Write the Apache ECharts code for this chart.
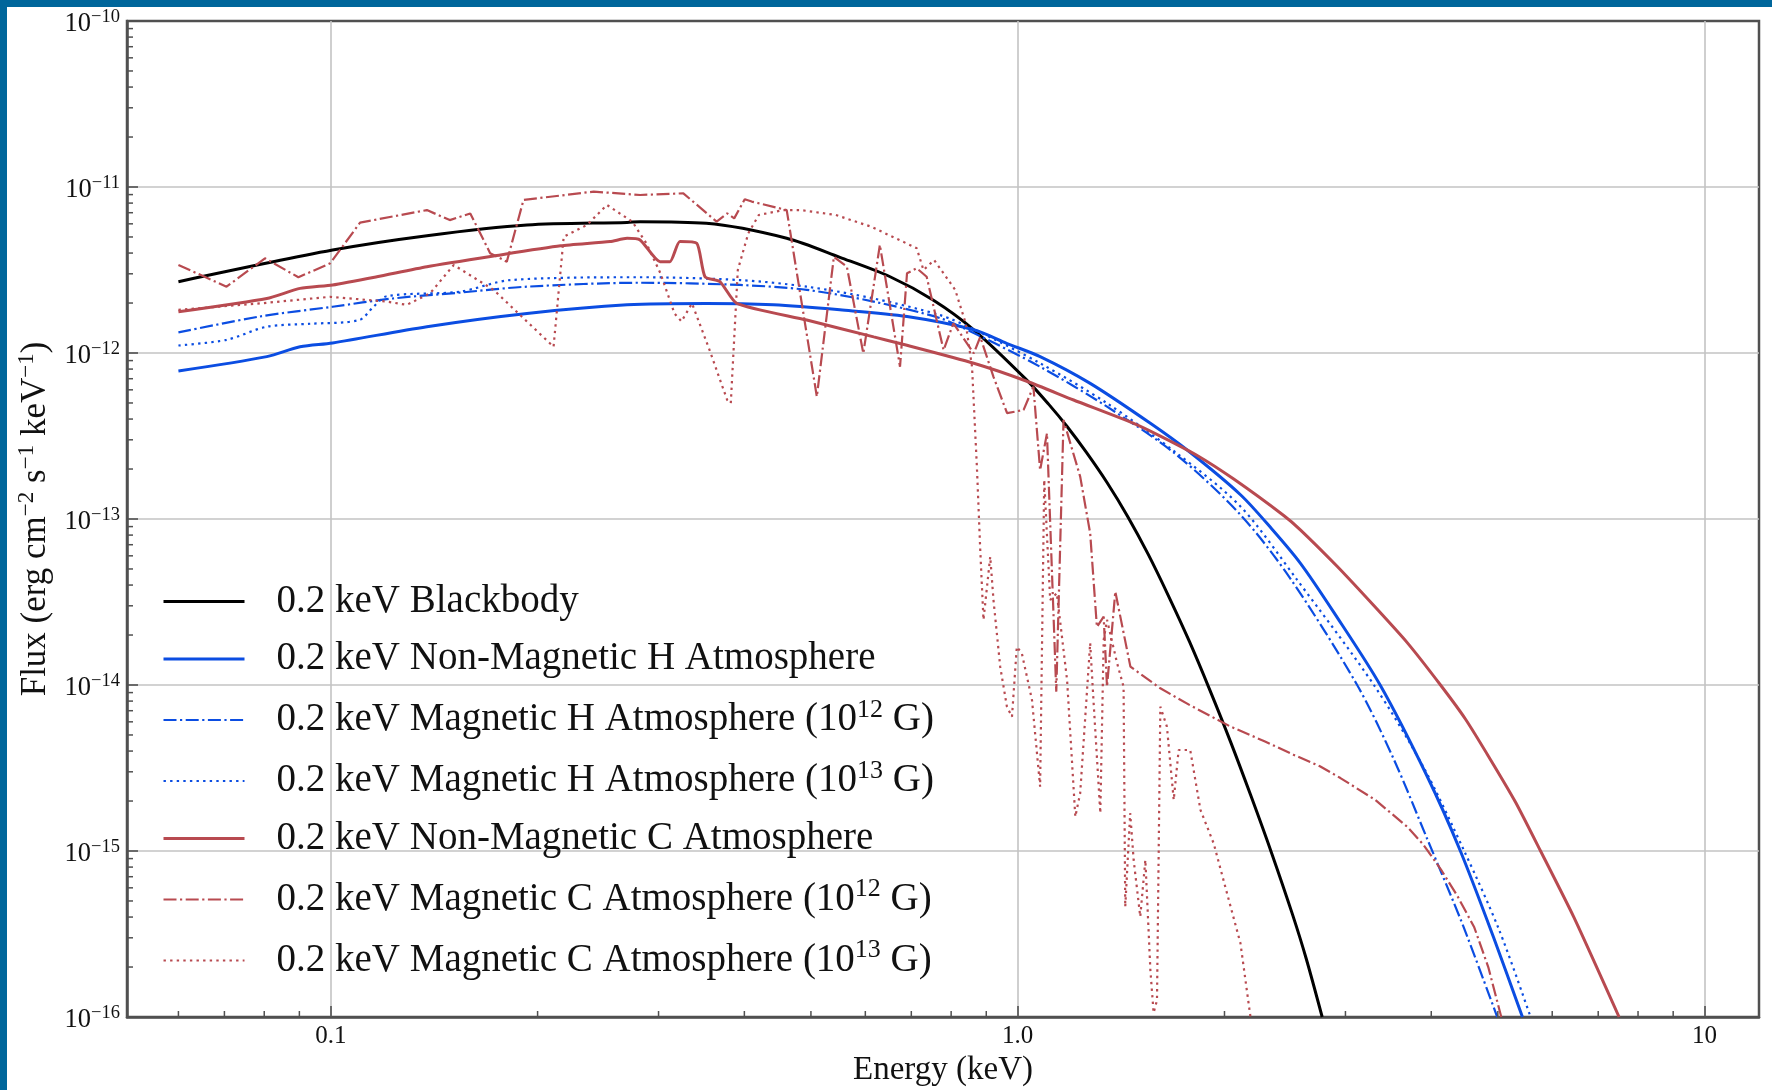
<!DOCTYPE html>
<html>
<head>
<meta charset="utf-8">
<title>0.2 keV thermal spectra: blackbody and neutron-star atmospheres</title>
<script src="https://cdn.jsdelivr.net/npm/echarts@6/dist/echarts.min.js"></script>
<style>
  html, body { margin: 0; padding: 0; background: #ffffff; }
  #chart { width: 1772px; height: 1090px; }
</style>
</head>
<body>
<div id="chart"></div>
<script>
// ---- Spectra: energy in keV, flux in erg cm^-2 s^-1 keV^-1 ----

// 0.2 keV blackbody
const bbEnergy = [0.060, 0.1006, 0.138, 0.193, 0.270, 0.282, 0.352, 0.461, 0.551, 0.652,
                  0.754, 0.863, 1.031, 1.109, 1.18, 1.259, 1.349, 1.445, 1.549, 1.660,
                  1.778, 1.905, 2.042, 2.188, 2.344, 2.512, 2.630, 2.775];
const bbFlux   = [2.69e-12, 4.17e-12, 5.09e-12, 5.90e-12, 6.12e-12, 6.18e-12, 6.04e-12, 4.91e-12, 3.77e-12, 2.88e-12,
                  2.08e-12, 1.38e-12, 6.87e-13, 4.92e-13, 3.61e-13, 2.52e-13, 1.66e-13, 1.04e-13, 6.12e-14, 3.40e-14,
                  1.83e-14, 9.29e-15, 4.53e-15, 2.12e-15, 9.64e-16, 4.15e-16, 2.25e-16, 1.0e-16];

// Non-magnetic hydrogen atmosphere
const hEnergy = [0.060, 0.0807, 0.0902, 0.1006, 0.138, 0.193, 0.270, 0.352, 0.441, 0.551,
                 0.690, 0.863, 0.965, 1.078, 1.275, 1.56, 1.778, 2.11, 2.344, 2.58,
                 2.884, 3.37, 3.945, 4.41, 4.93, 5.43];
const hFlux   = [7.80e-13, 9.51e-13, 1.09e-12, 1.15e-12, 1.44e-12, 1.73e-12, 1.95e-12, 1.99e-12, 1.95e-12, 1.82e-12,
                 1.66e-12, 1.38e-12, 1.14e-12, 9.51e-13, 6.56e-13, 3.77e-13, 2.54e-13, 1.40e-13, 8.71e-14, 5.41e-14,
                 2.75e-14, 1.00e-14, 2.82e-15, 1.00e-15, 3.01e-16, 1.0e-16];

// Magnetic hydrogen atmosphere, B = 1e12 G
const h12Energy = [0.060, 0.0789, 0.1006, 0.123, 0.154, 0.193, 0.282, 0.394, 0.493, 0.617,
                   0.771, 0.863, 1.078, 1.349, 1.70, 2.11, 2.49, 3.12, 3.53, 3.95,
                   4.45, 4.99];
const h12Flux   = [1.33e-12, 1.66e-12, 1.90e-12, 2.13e-12, 2.31e-12, 2.51e-12, 2.65e-12, 2.57e-12, 2.40e-12, 2.04e-12,
                   1.62e-12, 1.32e-12, 8.26e-13, 4.75e-13, 2.45e-13, 1.06e-13, 4.42e-14, 1.00e-14, 3.55e-15, 1.17e-15,
                   3.55e-16, 1.0e-16];

// Magnetic hydrogen atmosphere, B = 1e13 G
const h13Energy = [0.060, 0.0705, 0.0807, 0.0933, 0.110, 0.1154, 0.1207, 0.154, 0.1825, 0.282,
                   0.394, 0.493, 0.617, 0.771, 0.863, 1.078, 1.349, 1.70, 2.11, 2.55,
                   3.30, 3.90, 4.467, 5.02, 5.58];
const h13Flux   = [1.11e-12, 1.20e-12, 1.44e-12, 1.50e-12, 1.58e-12, 1.90e-12, 2.20e-12, 2.34e-12, 2.75e-12, 2.86e-12,
                   2.75e-12, 2.51e-12, 2.13e-12, 1.69e-12, 1.39e-12, 8.67e-13, 4.98e-13, 2.51e-13, 1.19e-13, 4.31e-14,
                   1.00e-14, 3.18e-15, 1.00e-15, 3.36e-16, 1.0e-16];

// Non-magnetic carbon atmosphere
const cEnergy = [0.060, 0.0807, 0.0902, 0.1006, 0.1167, 0.138, 0.1726, 0.216, 0.255, 0.270,
                 0.282, 0.3015, 0.3117, 0.3223, 0.341, 0.3506, 0.3685, 0.390, 0.493, 0.617,
                 0.674, 0.863, 1.031, 1.206, 1.475, 1.613, 1.820, 2.063, 2.439, 2.579,
                 2.917, 3.299, 3.690, 4.126, 4.487, 4.879, 5.309, 5.770, 6.453, 7.507];
const cFlux   = [1.77e-12, 2.13e-12, 2.45e-12, 2.57e-12, 2.88e-12, 3.31e-12, 3.84e-12, 4.42e-12, 4.69e-12, 4.91e-12,
                 4.80e-12, 3.55e-12, 3.55e-12, 4.69e-12, 4.58e-12, 2.88e-12, 2.69e-12, 1.99e-12, 1.58e-12, 1.25e-12,
                 1.14e-12, 8.67e-13, 6.76e-13, 5.21e-13, 3.77e-13, 3.16e-13, 2.43e-13, 1.74e-13, 1.05e-13, 8.61e-14,
                 5.19e-14, 3.01e-14, 1.80e-14, 1.00e-14, 6.22e-15, 3.55e-15, 1.96e-15, 1.00e-15, 3.98e-16, 1.0e-16];

// Magnetic carbon atmosphere, B = 1e12 G
const c12Energy = [0.060, 0.0705, 0.0802, 0.0897, 0.0998, 0.1103, 0.138, 0.149, 0.1596, 0.1706,
                   0.1804, 0.1908, 0.2414, 0.282, 0.326, 0.3645, 0.3776, 0.3866, 0.4005, 0.410,
                   0.461, 0.510, 0.540, 0.564, 0.596, 0.630, 0.674, 0.690, 0.713, 0.737,
                   0.780, 0.806, 0.863, 0.882, 0.922, 0.965, 1.020, 1.054, 1.078, 1.103,
                   1.138, 1.166, 1.233, 1.275, 1.304, 1.334, 1.349, 1.387, 1.459, 1.613,
                   1.778, 2.04, 2.291, 2.520, 2.754, 2.950, 3.311, 3.690, 3.890, 4.130,
                   4.365, 4.620, 4.842, 5.058];
const c12Flux   = [3.39e-12, 2.51e-12, 3.72e-12, 2.86e-12, 3.47e-12, 6.10e-12, 7.26e-12, 6.32e-12, 6.93e-12, 3.99e-12,
                   3.55e-12, 8.36e-12, 9.38e-12, 8.95e-12, 9.16e-12, 6.18e-12, 6.93e-12, 6.47e-12, 8.43e-12, 8.17e-12,
                   7.26e-12, 5.46e-13, 3.80e-12, 3.31e-12, 9.95e-13, 4.48e-12, 8.26e-13, 3.02e-12, 3.24e-12, 2.88e-12,
                   1.04e-12, 1.51e-12, 9.95e-13, 1.25e-12, 7.19e-13, 4.34e-13, 4.54e-13, 6.27e-13, 1.97e-13, 3.28e-13,
                   9.12e-15, 3.94e-13, 1.80e-13, 8.20e-14, 2.24e-14, 2.58e-14, 9.77e-15, 3.65e-14, 1.29e-14, 9.55e-15,
                   7.59e-15, 5.62e-15, 4.57e-15, 3.80e-15, 3.24e-15, 2.75e-15, 2.04e-15, 1.40e-15, 1.10e-15, 7.76e-16,
                   5.37e-16, 3.47e-16, 2.00e-16, 1.0e-16];

// Magnetic carbon atmosphere, B = 1e13 G
const c13Energy = [0.0600, 0.0789, 0.0998, 0.1207, 0.129, 0.1395, 0.151, 0.1726, 0.211, 0.2183,
                   0.236, 0.2523, 0.2748, 0.288, 0.3019, 0.3165, 0.324, 0.3356, 0.356, 0.3776,
                   0.3822, 0.3913, 0.4053, 0.4198, 0.4556, 0.4834, 0.5434, 0.6116, 0.7127, 0.7292,
                   0.7557, 0.811, 0.840, 0.858, 0.8721, 0.882, 0.8916, 0.912, 0.922, 0.943,
                   0.9645, 0.981, 0.997, 1.014, 1.049, 1.078, 1.093, 1.115, 1.140, 1.18,
                   1.213, 1.233, 1.275, 1.289, 1.319, 1.334, 1.349, 1.395, 1.426, 1.434,
                   1.458, 1.475, 1.508, 1.534, 1.56, 1.577, 1.595, 1.613, 1.649, 1.687,
                   1.715, 1.783, 1.845, 1.929, 2.017, 2.11, 2.182];
const c13Flux   = [1.82e-12, 1.99e-12, 2.18e-12, 2.04e-12, 1.95e-12, 2.29e-12, 3.39e-12, 2.40e-12, 1.09e-12, 5.02e-12,
                   5.90e-12, 7.80e-12, 6.18e-12, 4.58e-12, 3.02e-12, 1.73e-12, 1.55e-12, 1.99e-12, 1.04e-12, 5.21e-13,
                   4.98e-13, 3.16e-12, 5.26e-12, 6.78e-12, 7.26e-12, 7.26e-12, 6.78e-12, 5.77e-12, 4.28e-12, 3.16e-12,
                   3.63e-12, 2.40e-12, 1.51e-12, 8.26e-13, 2.07e-13, 6.50e-14, 2.47e-14, 5.93e-14, 3.25e-14, 1.29e-14,
                   7.40e-15, 6.44e-15, 1.70e-14, 1.55e-14, 8.13e-15, 2.44e-15, 1.72e-13, 3.25e-14, 3.58e-14, 1.07e-14,
                   1.61e-15, 2.23e-15, 1.79e-14, 8.13e-15, 1.69e-15, 1.87e-14, 2.47e-14, 1.36e-14, 9.77e-15, 4.61e-16,
                   1.69e-15, 8.83e-16, 4.02e-16, 8.83e-16, 1.92e-16, 1.06e-16, 1.26e-16, 7.40e-15, 5.61e-15, 2.03e-15,
                   4.06e-15, 4.06e-15, 1.77e-15, 1.11e-15, 5.56e-16, 2.78e-16, 1.0e-16];

// Legend entries ("^" marks a superscript exponent)
const seriesNames = [
  '0.2 keV Blackbody',
  '0.2 keV Non-Magnetic H Atmosphere',
  '0.2 keV Magnetic H Atmosphere (10^12 G)',
  '0.2 keV Magnetic H Atmosphere (10^13 G)',
  '0.2 keV Non-Magnetic C Atmosphere',
  '0.2 keV Magnetic C Atmosphere (10^12 G)',
  '0.2 keV Magnetic C Atmosphere (10^13 G)'
];

// Axis ranges and tick labels
const X_MIN = 0.0505, X_MAX = 12.0;
const Y_MIN = 1e-16, Y_MAX = 1e-10;
const xTickValues = [0.1, 1, 10];
const xTickLabels = ['0.1', '1.0', '10'];
const xMinorTicks = [0.06, 0.07, 0.08, 0.09, 0.2, 0.3, 0.4, 0.5, 0.6, 0.7, 0.8, 0.9, 2, 3, 4, 5, 6, 7, 8, 9];
const yMinorTicks = [];
for (let e = -16; e < -10; e++) {
  for (let m = 2; m <= 9; m++) yMinorTicks.push(m * Math.pow(10, e));
}

// ---- Styling ----
const SERIF = '"Liberation Serif", "Times New Roman", "DejaVu Serif", serif';
const TEXT = '#111111';
const BLACK = '#000000';
const BLUE = '#0b4de2';
const RED = '#b84a50';
const AXIS = '#505050';
const GRID_C = '#c3c3c3';
const FRAME = '#00669b';
const DASHDOT = [13, 3.5, 2.2, 3.5];
const DOTTED = [2.4, 4.2];
const SOLID_W = 3;
const THIN_W = 2.2;

const styles = [
  { color: BLACK, width: SOLID_W, type: 'solid', smooth: 0.3 },
  { color: BLUE,  width: SOLID_W, type: 'solid', smooth: 0.3 },
  { color: BLUE,  width: THIN_W,  type: DASHDOT, smooth: 0.3 },
  { color: BLUE,  width: THIN_W,  type: DOTTED,  smooth: 0.3 },
  { color: RED,   width: SOLID_W, type: 'solid', smooth: 0.2 },
  { color: RED,   width: THIN_W,  type: DASHDOT, smooth: false },
  { color: RED,   width: THIN_W,  type: DOTTED,  smooth: false }
];
const seriesData = [
  [bbEnergy, bbFlux], [hEnergy, hFlux], [h12Energy, h12Flux], [h13Energy, h13Flux],
  [cEnergy, cFlux], [c12Energy, c12Flux], [c13Energy, c13Flux]
];

function pairs(E, F) { return E.map((e, i) => [e, F[i]]); }

function lineSeries(i) {
  const s = styles[i];
  return {
    type: 'line',
    name: seriesNames[i],
    data: pairs(seriesData[i][0], seriesData[i][1]),
    showSymbol: false,
    symbol: 'none',
    smooth: s.smooth,
    clip: true,
    z: 3,
    lineStyle: { color: s.color, width: s.width, type: s.type },
    itemStyle: { color: s.color },
    emphasis: { disabled: true }
  };
}

// Short inward minor ticks at 2..9 x 10^n, placed through the axis scales
function minorTickSeries(values, axis) {
  return {
    type: 'custom',
    coordinateSystem: 'cartesian2d',
    silent: true,
    clip: false,
    z: 6,
    data: values.map(v => axis === 'x' ? [v, Y_MIN] : [X_MIN, v]),
    renderItem: function (params, api) {
      const p = api.coord([api.value(0), api.value(1)]);
      const len = 6;
      const shape = axis === 'x'
        ? { x1: p[0], y1: p[1], x2: p[0], y2: p[1] - len }
        : { x1: p[0], y1: p[1], x2: p[0] + len, y2: p[1] };
      return { type: 'line', shape: shape, style: { stroke: AXIS, lineWidth: 1.5 } };
    }
  };
}

const chart = echarts.init(document.getElementById('chart'), null, { renderer: 'canvas' });

const option = {
  animation: false,
  backgroundColor: '#ffffff',
  textStyle: { fontFamily: SERIF, color: TEXT },
  graphic: [
    { type: 'rect', left: 0, top: 0, z: 100, shape: { width: 7, height: 1090 }, style: { fill: FRAME } },
    { type: 'rect', left: 0, top: 0, z: 100, shape: { width: 1772, height: 7 }, style: { fill: FRAME } }
  ],
  grid: {
    left: 127, right: 13, top: 21, bottom: 73,
    show: true, borderColor: AXIS, borderWidth: 2.5, backgroundColor: 'transparent',
    containLabel: false, outerBoundsMode: 'none'
  },
  legend: {
    orient: 'vertical',
    left: 162, top: 582,
    padding: 0,
    itemWidth: 81, itemHeight: 48, itemGap: 18.5,
    selectedMode: false,
    itemStyle: { opacity: 0 },
    data: seriesNames.map((n, i) => ({
      name: n,
      lineStyle: { width: styles[i].width, type: styles[i].type, color: styles[i].color }
    })),
    formatter: function (name) {
      return '{g| }{t|' + name.replace(/\^(\d+)/, '}{s|$1}{t|') + '}';
    },
    textStyle: {
      rich: {
        g: { width: 27, fontSize: 39, lineHeight: 46 },
        t: { fontFamily: SERIF, fontSize: 39, lineHeight: 46, color: TEXT },
        s: { fontFamily: SERIF, fontSize: 26, lineHeight: 26, verticalAlign: 'top', color: TEXT }
      }
    }
  },
  xAxis: {
    type: 'log', logBase: 10,
    min: X_MIN, max: X_MAX,
    name: 'Energy (keV)', nameLocation: 'middle', nameGap: 33,
    nameTextStyle: { fontFamily: SERIF, fontSize: 33, color: TEXT },
    axisLine: { show: true, lineStyle: { color: AXIS, width: 2.5 } },
    axisTick: { show: true, inside: true, length: 11, lineStyle: { color: AXIS, width: 1.6 } },
    minorTick: { show: false },
    splitLine: { show: true, showMinLine: false, showMaxLine: false, lineStyle: { color: GRID_C, width: 1.6 } },
    axisLabel: {
      show: true, margin: 7, showMinLabel: false, showMaxLabel: false,
      fontFamily: SERIF, fontSize: 25, color: TEXT,
      formatter: function (v) {
        for (let i = 0; i < xTickValues.length; i++) {
          if (Math.abs(Math.log10(v) - Math.log10(xTickValues[i])) < 1e-6) return xTickLabels[i];
        }
        return '';
      }
    }
  },
  yAxis: {
    type: 'log', logBase: 10,
    min: Y_MIN, max: Y_MAX,
    name: '{t|Flux (erg cm}{s|\u22122}{t| s}{s|\u22121}{t| keV}{s|\u22121}{t|)}',
    nameLocation: 'middle', nameRotate: 90, nameGap: 56,
    nameTextStyle: {
      rich: {
        t: { fontFamily: SERIF, fontSize: 35, lineHeight: 42, color: TEXT },
        s: { fontFamily: SERIF, fontSize: 23, lineHeight: 23, verticalAlign: 'top', color: TEXT }
      }
    },
    axisLine: { show: true, lineStyle: { color: AXIS, width: 2.5 } },
    axisTick: { show: true, inside: true, length: 11, lineStyle: { color: AXIS, width: 1.6 } },
    minorTick: { show: false },
    splitLine: { show: true, showMinLine: false, showMaxLine: false, lineStyle: { color: GRID_C, width: 1.6 } },
    axisLabel: {
      show: true, margin: 7,
      formatter: function (v) {
        const e = Math.round(Math.log10(v));
        return '{b|10}{s|\u2212' + Math.abs(e) + '}';
      },
      rich: {
        b: { fontFamily: SERIF, fontSize: 26.5, lineHeight: 26, padding: [6, 0, 0, 0], color: TEXT },
        s: { fontFamily: SERIF, fontSize: 18.5, lineHeight: 18, verticalAlign: 'top', color: TEXT }
      }
    }
  },
  series: [0, 1, 2, 3, 4, 5, 6].map(lineSeries).concat([
    minorTickSeries(xMinorTicks, 'x'),
    minorTickSeries(yMinorTicks, 'y')
  ])
};

chart.setOption(option);
</script>
</body>
</html>
